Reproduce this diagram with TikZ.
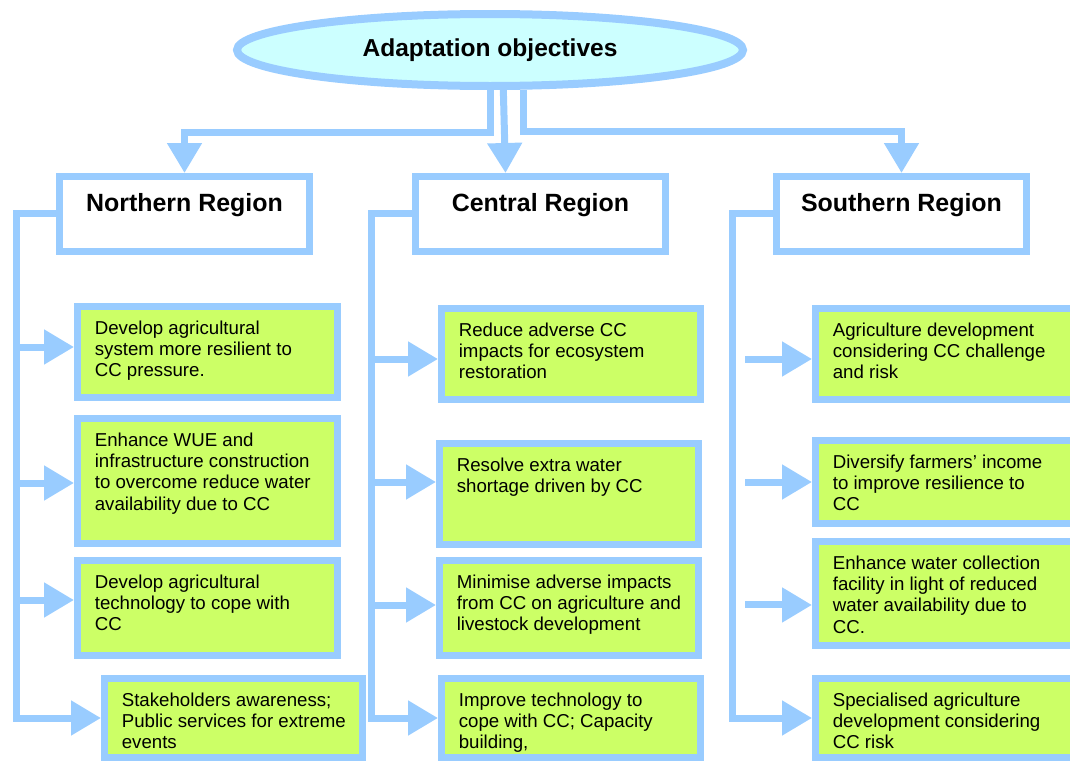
\documentclass[tikz,border=0pt]{standalone}
\usepackage{fontspec}
\setmainfont{Liberation Sans}
\usetikzlibrary{shapes.geometric, arrows.meta}
\definecolor{lineblue}{HTML}{99CCFF}
\definecolor{objgreen}{HTML}{CCFF66}
\definecolor{titlefill}{HTML}{CCFFFF}
\newcommand{\objtext}[3]{\parbox[t][#2][t]{#1}{\raggedright\leftskip=13pt\vspace*{10.5pt}#3}}

\begin{document}
\begin{tikzpicture}[x=0.75pt, y=-0.75pt, >={Triangle[length=22.5pt, width=25pt]},
    conn/.style={draw=lineblue, line width=5.25pt},
    titlebox/.style={ellipse, draw=lineblue, line width=6pt, fill=titlefill,
      minimum width=379.5pt, minimum height=54pt, inner sep=0pt,
      font=\bfseries\fontsize{18.4pt}{22pt}\selectfont},
    regionbox/.style={draw=lineblue, line width=5.25pt, fill=white, anchor=north west,
      inner sep=0pt, minimum width=187.5pt, text height=26.6pt, text depth=29.6pt,
      font=\bfseries\fontsize{18.7pt}{22pt}\selectfont},
    objbox/.style={draw=lineblue, line width=5.25pt, fill=objgreen, anchor=north west,
      inner sep=0pt, font=\fontsize{14pt}{16pt}\selectfont}]
  \useasboundingbox (0,0) rectangle (1070,760);
  \clip (0,0) rectangle (1070,760);

  \node[titlebox]  (title)   at (490,50)  {Adaptation objectives};
  \node[regionbox] (north)   at (56,173)  {Northern Region};
  \node[regionbox] (central) at (412,173) {Central Region};
  \node[regionbox] (south)   at (773,173) {Southern Region};

  % northern objectives
  \node[objbox] (n1) at (74,303)  {\objtext{195pt}{68.25pt}{Develop agricultural\\system more resilient to\\CC pressure.}};
  \node[objbox] (n2) at (74,415)  {\objtext{195pt}{93.75pt}{Enhance WUE and\\infrastructure construction\\to overcome reduce water\\availability due to CC}};
  \node[objbox] (n3) at (74,557)  {\objtext{195pt}{71.25pt}{Develop agricultural\\technology to cope with\\CC}};
  \node[objbox] (n4) at (101,675) {\objtext{193.5pt}{59.25pt}{Stakeholders awareness;\\Public services for extreme\\events}};

  % central objectives
  \node[objbox] (c1) at (438,305) {\objtext{194.25pt}{68.25pt}{Reduce adverse CC\\impacts for ecosystem\\restoration}};
  \node[objbox] (c2) at (436,440) {\objtext{194.25pt}{75.75pt}{Resolve extra water\\shortage driven by CC}};
  \node[objbox] (c3) at (436,557) {\objtext{194.25pt}{71.25pt}{Minimise adverse impacts\\from CC on agriculture and\\livestock development}};
  \node[objbox] (c4) at (438,675) {\objtext{194.25pt}{59.25pt}{Improve technology to\\cope with CC; Capacity\\building,}};

  % southern objectives
  \node[objbox] (s1) at (812,305) {\objtext{202.5pt}{68.25pt}{Agriculture development\\considering CC challenge\\and risk}};
  \node[objbox] (s2) at (812,437) {\objtext{202.5pt}{62.25pt}{Diversify farmers’ income\\to improve resilience to\\CC}};
  \node[objbox] (s3) at (812,538) {\objtext{202.5pt}{78pt}{Enhance water collection\\facility in light of reduced\\water availability due to\\CC.}};
  \node[objbox] (s4) at (812,675) {\objtext{202.5pt}{59.25pt}{Specialised agriculture\\development considering\\CC risk}};

  % from the objectives to the regions
  \draw[conn,->] (title.south) -- ++(0,42) -| (north.north);
  \draw[conn,->] ([xshift=10pt]title.south) -- ([xshift=-26.25pt]central.north);
  \draw[conn,->] ([xshift=24.75pt]title.south) -- ++(0,41) -| (south.north);

  % spines down each region
  \coordinate (nbus) at (16,718);
  \coordinate (cbus) at (371,718);
  \coordinate (sbus) at (732,718);
  \draw[conn,->] (north.west) -| (nbus) -- (n4.west);
  \draw[conn,->] (central.west) -| (cbus) -- (c4.west);
  \draw[conn,->] (south.west) -| (sbus) -- (s4.west);

  \foreach \b/\s/\l in {n1/3.75pt/58, n2/-1.5pt/58, n3/6pt/58,
                        c1/-3.75pt/67, c2/9pt/65, c3/2.25pt/65,
                        s1/-3.75pt/67, s2/0pt/67, s3/-8.6pt/67}
    \draw[conn,<-] ([yshift=\s]\b.west) -- ++(-\l,0);
\end{tikzpicture}
\end{document}
